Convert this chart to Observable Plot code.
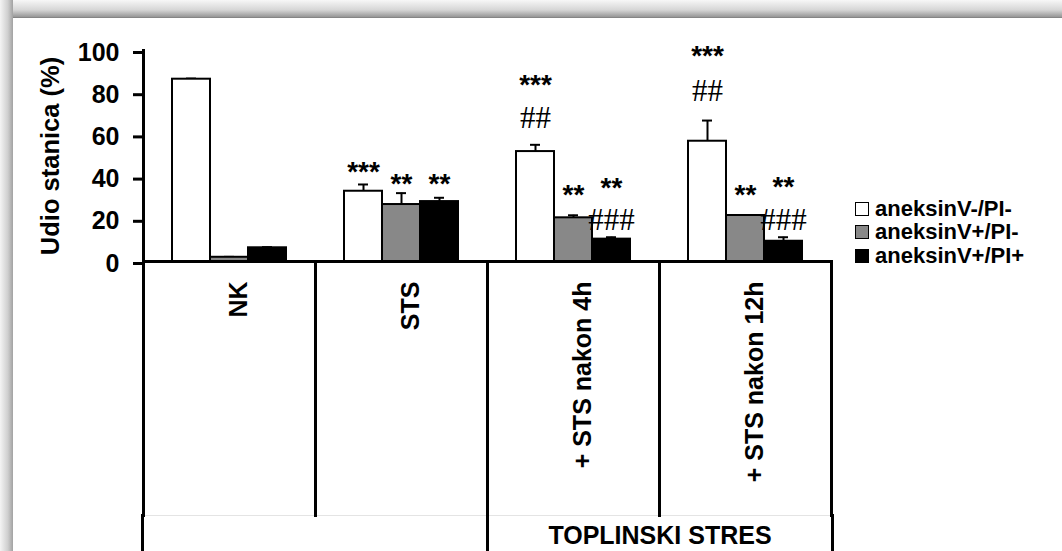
<!DOCTYPE html>
<html>
<head>
<meta charset="utf-8">
<script src="https://cdn.jsdelivr.net/npm/d3@7"></script>
<script src="https://cdn.jsdelivr.net/npm/@observablehq/plot@0.6"></script>
<style>
  html, body { margin: 0; padding: 0; background: #fff; }
  #wrap { position: relative; width: 1062px; height: 551px; overflow: hidden; background: #fff; font-family: "Liberation Sans", Arial, sans-serif; }
  #wrap > svg, #wrap > figure { position: absolute; left: 0; top: 0; margin: 0; }
  #topShade { position: absolute; left: 0; top: 0; width: 1062px; height: 18px; background: linear-gradient(to bottom, #f7f7f7 0%, #d6d6d6 55%, #9a9a9a 92%, #7a7a7a 100%); z-index: 5; }
  #leftShade { position: absolute; left: 0; top: 0; width: 13px; height: 551px; background: linear-gradient(to right, #f4f4f4 0%, #cfcfcf 60%, #a2a2a2 100%); z-index: 5; }
  #legend { position: absolute; left: 855px; top: 197px; font: bold 22px "Liberation Sans", Arial, sans-serif; color: #000; z-index: 6; }
  #legend .row { display: flex; align-items: center; height: 23.5px; }
  #legend .sw { width: 14px; height: 14px; border: 1px solid #000; box-sizing: border-box; margin-right: 6px; }
</style>
</head>
<body>
<div id="wrap">
  <div id="topShade"></div>
  <div id="leftShade"></div>
  <div id="legend"></div>
</div>
<script>
// ---- data ----
const groups = ["NK", "STS", "+ STS nakon 4h", "+ STS nakon 12h"];
const superGroups = ["", "TOPLINSKI STRES"];
const series = ["aneksinV-/PI-", "aneksinV+/PI-", "aneksinV+/PI+"];
const seriesColors = ["#ffffff", "#888888", "#000000"];
// values per group, in series order
const valuesNK   = [86.4, 2.0, 6.5];
const valuesSTS  = [33.3, 27.0, 28.4];
const values4h   = [52.1, 20.7, 10.6];
const values12h  = [57.0, 21.8, 9.6];
const errNK  = [0.3, 0.2, 0.3];
const errSTS = [3.2, 5.4, 1.8];
const err4h  = [3.2, 1.2, 0.9];
const err12h = [9.8, 0.0, 1.9];
const yTicks = [0, 20, 40, 60, 80, 100];
// significance marks: group, series, label, y position (data units)
const annotGroup  = ["STS", "STS", "STS", "+ STS nakon 4h", "+ STS nakon 4h", "+ STS nakon 4h", "+ STS nakon 4h", "+ STS nakon 4h", "+ STS nakon 12h", "+ STS nakon 12h", "+ STS nakon 12h", "+ STS nakon 12h", "+ STS nakon 12h"];
const annotSeries = [0, 1, 2, 0, 0, 1, 2, 2, 0, 0, 1, 2, 2];
const annotLabel  = ["***", "**", "**", "***", "##", "**", "**", "###", "***", "##", "**", "**", "###"];
const annotY      = [46, 40.3, 40.3, 87.3, 67.8, 35.2, 38.4, 19.4, 100.8, 80.7, 35.2, 38.9, 19.4];

// ---- tables ----
const valueSets = [valuesNK, valuesSTS, values4h, values12h];
const errSets = [errNK, errSTS, err4h, err12h];
const rows = [];
groups.forEach((g, gi) => series.forEach((s, si) => rows.push({group: g, series: s, value: valueSets[gi][si], err: errSets[gi][si]})));
const annots = annotLabel.map((t, i) => ({group: annotGroup[i], series: series[annotSeries[i]], text: t, y: annotY[i]}));

const W = 1062, H = 551;
const mL = 141, mR = 230;
const yTop = 50, yBase = 261, yMid = 515;
const sans = "Liberation Sans, Arial, sans-serif";
const serif = "Liberation Serif, Times New Roman, serif";

// ---- main chart ----
const main = Plot.plot({
  width: W, height: H,
  marginLeft: mL, marginRight: mR, marginTop: yTop, marginBottom: H - yBase,
  style: {background: "transparent", overflow: "visible"},
  fx: {domain: groups, padding: 0, axis: null, label: null},
  x: {domain: series, paddingInner: 0, paddingOuter: 0.735, axis: null},
  y: {domain: [0, 100], axis: null},
  color: {domain: series, range: seriesColors},
  marks: [
    Plot.axisY({ticks: yTicks, tickSize: 10, tickPadding: 14, strokeWidth: 3, fontSize: 25, fontWeight: "bold", fontFamily: sans, label: null, dy: 2, facetAnchor: "left"}),
    Plot.axisY({ticks: [], tickSize: 0, label: "Udio stanica (%)", labelAnchor: "center", labelOffset: 103, labelArrow: "none", fontSize: 25.5, fontWeight: "bold", fontFamily: sans, dy: 3.5, facetAnchor: "left"}),
    Plot.frame({anchor: "left", strokeWidth: 3, facetAnchor: "left"}),
    Plot.ruleX(rows, {fx: "group", x: "series", y1: "value", y2: d => d.value + d.err, strokeWidth: 2}),
    Plot.tickY(rows, {fx: "group", x: "series", y: d => d.value + d.err, insetLeft: 14, insetRight: 14, strokeWidth: 2}),
    Plot.barY(rows, {fx: "group", x: "series", y: "value", fill: "series", stroke: "#000", strokeWidth: 2}),
    Plot.ruleY([0], {strokeWidth: 3}),
    Plot.text(annots.filter(d => d.text.startsWith("*")), {fx: "group", x: "series", y: "y", text: "text", fontSize: 28, fontWeight: "bold", fontFamily: sans, dy: 7.5}),
    Plot.text(annots.filter(d => d.text.startsWith("#")), {fx: "group", x: "series", y: "y", text: "text", fontSize: 31, fontFamily: serif})
  ]
});

// ---- category table (below axis) ----
const table = Plot.plot({
  width: W, height: H,
  marginLeft: mL, marginRight: mR, marginTop: yBase, marginBottom: H - yMid,
  style: {background: "transparent", overflow: "visible"},
  fx: {domain: groups, padding: 0, axis: null, label: null},
  marks: [
    Plot.frame({anchor: "bottom", stroke: "#e4e4e4", strokeWidth: 1}),
    Plot.frame({anchor: "left", strokeWidth: 3}),
    Plot.frame({anchor: "right", strokeWidth: 3}),
    Plot.text(groups, {fx: d => d, text: d => d, frameAnchor: "top", rotate: -90, textAnchor: "end", dy: 20, fontSize: 25, fontWeight: "bold", fontFamily: sans})
  ]
});

// ---- super-group row ----
const superRow = Plot.plot({
  width: W, height: H,
  marginLeft: mL, marginRight: mR, marginTop: yMid, marginBottom: 0,
  style: {background: "transparent", overflow: "visible"},
  fx: {domain: superGroups, padding: 0, axis: null, label: null},
  marks: [
    Plot.frame({anchor: "left", strokeWidth: 3}),
    Plot.frame({anchor: "right", strokeWidth: 3}),
    Plot.text(superGroups, {fx: d => d, text: d => d, frameAnchor: "middle", dy: 2, fontSize: 25, fontWeight: "bold", fontFamily: sans})
  ]
});

const wrap = document.getElementById("wrap");
[superRow, table, main].forEach(p => wrap.insertBefore(p, document.getElementById("topShade")));

// ---- legend ----
const legend = document.getElementById("legend");
series.forEach((s, i) => {
  const row = document.createElement("div");
  row.className = "row";
  const sw = document.createElement("span");
  sw.className = "sw";
  sw.style.background = seriesColors[i];
  const t = document.createElement("span");
  t.textContent = s;
  row.appendChild(sw); row.appendChild(t);
  legend.appendChild(row);
});
</script>
</body>
</html>
